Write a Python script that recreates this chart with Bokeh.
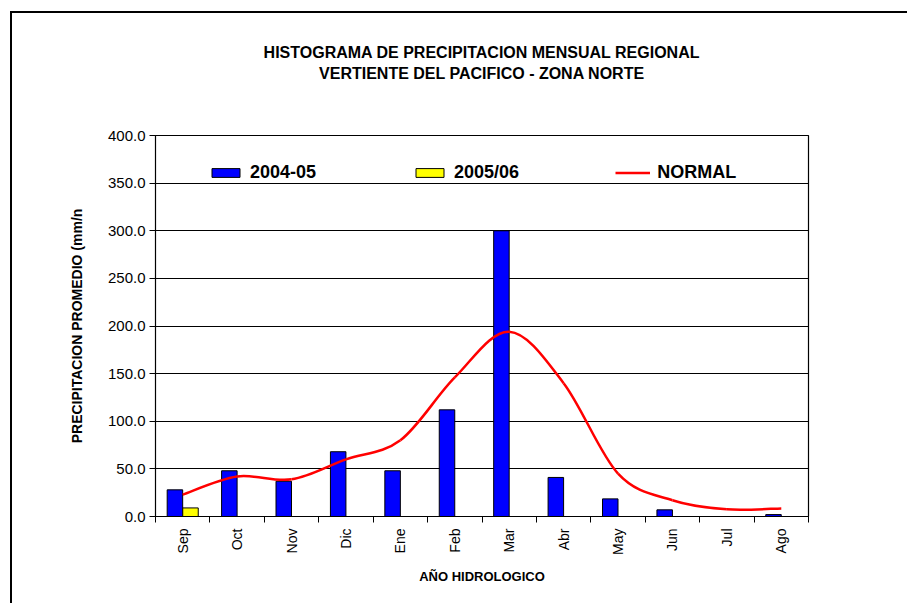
import numpy as np
from bokeh.plotting import figure
from bokeh.models import (Range1d, FixedTicker, Legend, LegendItem, Title,
                          ColumnDataSource, NumeralTickFormatter)
from bokeh.embed import file_html
from bokeh.resources import INLINE
from bokeh.transform import dodge

# ---------------- data ----------------
months = ["Sep", "Oct", "Nov", "Dic", "Ene", "Feb", "Mar", "Abr", "May", "Jun", "Jul", "Ago"]
serie_2004_05 = [28, 48, 37, 68, 48, 112, 300, 41, 18.5, 7, 0, 2]
serie_2005_06 = [9, 0, 0, 0, 0, 0, 0, 0, 0, 0, 0, 0]
normal = [23, 42, 39, 60, 80, 146, 194, 140, 45, 17, 7.5, 8.5]
y_ticks = [0, 50, 100, 150, 200, 250, 300, 350, 400]

title_1 = "HISTOGRAMA DE PRECIPITACION MENSUAL REGIONAL"
title_2 = "VERTIENTE DEL PACIFICO - ZONA NORTE"
x_label = "AÑO HIDROLOGICO"
y_label = "PRECIPITACION PROMEDIO (mm/n"

FONT = "Liberation Sans"
FW, FH = 653, 381

n = len(months)
xc = np.arange(n) + 0.5
src = ColumnDataSource(dict(x=xc, a=serie_2004_05, b=serie_2005_06))

p = figure(frame_width=FW, frame_height=FH,
           min_border_left=143, min_border_right=99,
           min_border_top=122, min_border_bottom=87,
           x_range=Range1d(0, n), y_range=Range1d(0, 400),
           output_backend="svg", toolbar_location=None,
           background_fill_color="white", border_fill_color="white")
p.styles = {"margin-left": "10px", "margin-top": "11px",
            "border-left": "2px solid #000", "border-top": "2px solid #000"}

p.outline_line_color = "black"
p.outline_line_width = 1.2

# bars
r_a = p.vbar(x=dodge("x", -0.143, range=p.x_range), top="a", width=0.285, source=src,
             fill_color="#0000FF", line_color="black", line_width=1)
r_b = p.vbar(x=dodge("x", 0.143, range=p.x_range), top="b", width=0.285, source=src,
             fill_color="#FFFF00", line_color="black", line_width=1)

# smoothed normal line (Bezier through the monthly values)
P = np.array(normal, float)
px = np.concatenate([[xc[0]], xc, [xc[-1]]])
py = np.concatenate([[P[0]], P, [P[-1]]])
i = np.arange(n - 1)
bz = ColumnDataSource(dict(
    x0=px[i + 1], y0=py[i + 1], x1=px[i + 2], y1=py[i + 2],
    cx0=px[i + 1] + (px[i + 2] - px[i]) / 6, cy0=py[i + 1] + (py[i + 2] - py[i]) / 6,
    cx1=px[i + 2] - (px[i + 3] - px[i + 1]) / 6, cy1=py[i + 2] - (py[i + 3] - py[i + 1]) / 6,
))
r_n = p.bezier(x0="x0", y0="y0", x1="x1", y1="y1", cx0="cx0", cy0="cy0",
               cx1="cx1", cy1="cy1", source=bz, line_color="#FF0000", line_width=2.5)

# axes
p.yaxis.ticker = FixedTicker(ticks=y_ticks)
p.yaxis.formatter = NumeralTickFormatter(format="0.0")
p.yaxis.major_tick_in = 0
p.yaxis.major_tick_out = 6
p.yaxis.minor_tick_in = 0
p.yaxis.minor_tick_out = 0
p.yaxis.axis_line_color = "black"
p.yaxis.major_tick_line_color = "black"
p.yaxis.major_label_text_font = FONT
p.yaxis.major_label_text_font_size = "15px"
p.yaxis.major_label_text_color = "black"
p.yaxis.major_label_standoff = 4
p.yaxis.axis_label = y_label
p.yaxis.axis_label_text_font = FONT
p.yaxis.axis_label_text_font_style = "bold"
p.yaxis.axis_label_text_font_size = "14px"
p.yaxis.axis_label_text_color = "black"
p.yaxis.axis_label_standoff = 20

p.xaxis.ticker = FixedTicker(ticks=list(xc), minor_ticks=list(np.arange(n + 1)))
p.xaxis.major_label_overrides = {float(x): m for x, m in zip(xc, months)}
p.xaxis.major_tick_in = 0
p.xaxis.major_tick_out = 0
p.xaxis.minor_tick_in = 0
p.xaxis.minor_tick_out = 6
p.xaxis.minor_tick_line_color = "black"
p.xaxis.axis_line_color = "black"
p.xaxis.major_label_orientation = np.pi / 2
p.xaxis.major_label_text_font = FONT
p.xaxis.major_label_text_font_size = "14px"
p.xaxis.major_label_text_color = "black"
p.xaxis.major_label_standoff = 6
p.xaxis.axis_label = x_label
p.xaxis.axis_label_text_font = FONT
p.xaxis.axis_label_text_font_style = "bold"
p.xaxis.axis_label_text_font_size = "13px"
p.xaxis.axis_label_text_color = "black"
p.xaxis.axis_label_standoff = 11

p.xgrid.grid_line_color = None
p.ygrid.ticker = FixedTicker(ticks=y_ticks)
p.ygrid.grid_line_color = "black"
p.ygrid.grid_line_width = 1

# titles: a blank spacer next to the frame, then the two centred lines
p.title.visible = False
p.add_layout(Title(text=" ", text_font=FONT, text_font_size="16px", standoff=35), "above")
p.add_layout(Title(text=title_2, align="center", text_font=FONT, text_font_style="bold",
                   text_font_size="16px", text_color="black", standoff=0), "above")
p.add_layout(Title(text=title_1, align="center", text_font=FONT, text_font_style="bold",
                   text_font_size="16px", text_color="black", standoff=4), "above")

# legend
legend = Legend(items=[LegendItem(label="2004-05", renderers=[r_a]),
                       LegendItem(label="2005/06", renderers=[r_b]),
                       LegendItem(label="NORMAL", renderers=[r_n])],
                orientation="horizontal", location=(53, 333),
                border_line_color=None, background_fill_alpha=0,
                padding=0, margin=0, spacing=96,
                glyph_width=35, glyph_height=11, label_standoff=7,
                label_text_font=FONT, label_text_font_style="bold",
                label_text_font_size="18px", label_text_color="black",
                label_height=20)
p.add_layout(legend)

open("out.html", "w").write(file_html(p, INLINE))
